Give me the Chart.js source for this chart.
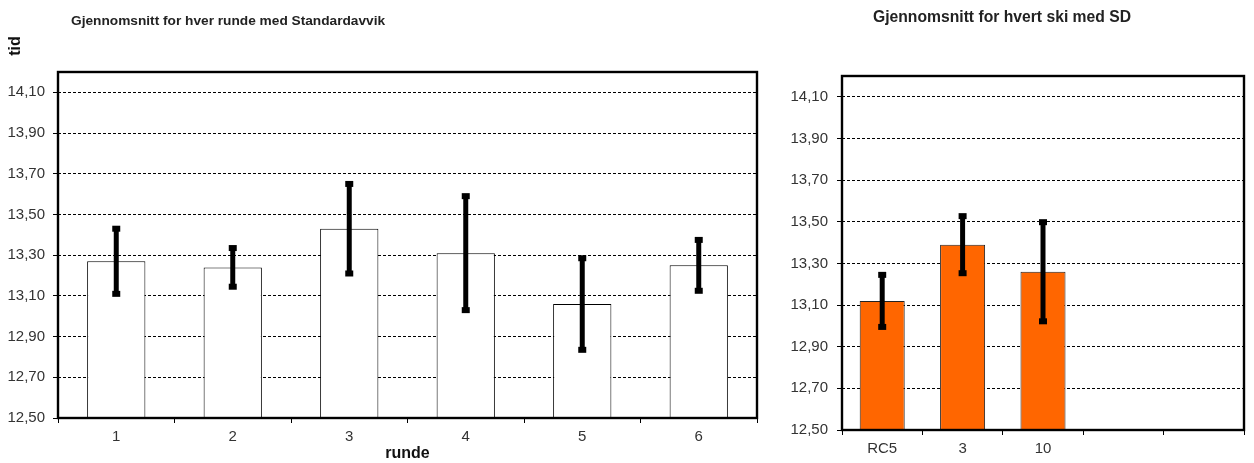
<!DOCTYPE html>
<html><head><meta charset="utf-8">
<script src="https://cdn.jsdelivr.net/npm/chart.js@4/dist/chart.umd.min.js"></script>
<style>
html,body{margin:0;padding:0;background:#fff;width:1254px;height:463px;overflow:hidden}
#w1{position:absolute;left:0;top:0;width:770px;height:463px}
#w2{position:absolute;left:770px;top:0;width:484px;height:463px}
</style></head><body>
<div id="w1"><canvas id="c1" width="770" height="463"></canvas></div>
<div id="w2"><canvas id="c2" width="484" height="463"></canvas></div>
<script>
// ---- data ----
const rundeLabels = ['1', '2', '3', '4', '5', '6'];
const rundeMeans = [13.27, 13.24, 13.43, 13.31, 13.06, 13.25];
const rundeSD = [0.16, 0.095, 0.22, 0.28, 0.225, 0.125];

const skiLabels = ['RC5', '3', '10', '', ''];
const skiMeans = [13.12, 13.39, 13.26, null, null];
const skiSD = [0.125, 0.137, 0.238, null, null];

const yTickValues = [12.5, 12.7, 12.9, 13.1, 13.3, 13.5, 13.7, 13.9, 14.1];
const yMin = 12.5, yMax = 14.2;

const titleLeft = 'Gjennomsnitt for hver runde med Standardavvik';
const titleRight = 'Gjennomsnitt for hvert ski med SD';
const xTitleLeft = 'runde';
const yTitleLeft = 'tid';

// ---- helpers ----
const FAM = '"Liberation Sans", Arial, sans-serif';

const framePlugin = {
  id: 'frame',
  afterDraw(chart, args, opts) {
    const {ctx, chartArea: a} = chart;
    ctx.save();
    ctx.lineWidth = 2.4;
    ctx.strokeStyle = '#000';
    ctx.setLineDash([]);
    ctx.strokeRect(a.left, a.top, a.right - a.left, a.bottom - a.top);
    (opts.texts || []).forEach(t => {
      ctx.save();
      ctx.font = t.font;
      ctx.fillStyle = t.color || '#222';
      ctx.textAlign = t.align || 'left';
      ctx.textBaseline = t.baseline || 'alphabetic';
      ctx.translate(t.x, t.y);
      if (t.rotate) ctx.rotate(t.rotate);
      ctx.fillText(t.text, 0, 0);
      ctx.restore();
    });
    ctx.restore();
  }
};

function makeChart(canvasId, cfg) {
  const whisker = cfg.means.map((m, i) => m == null ? null : [m - cfg.sd[i], m + cfg.sd[i]]);
  const hi = cfg.means.map((m, i) => m == null ? null : m + cfg.sd[i]);
  const lo = cfg.means.map((m, i) => m == null ? null : m - cfg.sd[i]);
  const capStyle = {
    type: 'line', showLine: false, pointStyle: 'line', pointRadius: 4, pointHoverRadius: 4,
    pointBorderWidth: 6, pointBorderColor: '#000', pointBackgroundColor: '#000',
    borderColor: '#000', order: 1
  };
  return new Chart(document.getElementById(canvasId), {
    type: 'bar',
    data: {
      labels: cfg.labels,
      datasets: [
        { type: 'bar', data: cfg.means, backgroundColor: cfg.fill, borderColor: cfg.border,
          borderWidth: 1, grouped: false, barPercentage: cfg.barPct, categoryPercentage: 1, order: 3 },
        { type: 'bar', data: whisker, backgroundColor: '#000', borderWidth: 0, grouped: false,
          maxBarThickness: 5, order: 2 },
        Object.assign({ data: hi }, capStyle),
        Object.assign({ data: lo }, capStyle)
      ]
    },
    options: {
      responsive: false,
      animation: false,
      layout: { padding: cfg.padding },
      plugins: {
        legend: { display: false },
        tooltip: { enabled: false },
        title: { display: false },
        frame: { texts: cfg.texts }
      },
      scales: {
        x: {
          offset: true,
          afterFit: s => { s.height = cfg.xh; },
          ticks: { color: '#333', font: { family: FAM, size: 15 }, padding: 5, maxRotation: 0, autoSkip: false },
          grid: { offset: true, drawOnChartArea: false, tickLength: 5, tickColor: '#000', color: '#000' },
          border: { display: false },
          title: { display: !!cfg.xTitle, text: cfg.xTitle || '', color: '#111',
                   font: { family: FAM, size: 16, weight: 'bold' }, padding: { top: 0, bottom: 0 } }
        },
        y: {
          min: yMin, max: yMax,
          afterBuildTicks: s => { s.ticks = yTickValues.map(v => ({ value: v })); },
          afterFit: s => { s.width = cfg.yw; },
          ticks: { color: '#333', font: { family: FAM, size: 15 }, padding: cfg.ypad,
                   callback: v => Number(v).toFixed(2).replace('.', ',') },
          grid: { color: '#000', lineWidth: 1, tickLength: 5, tickColor: '#000', tickWidth: 1 },
          border: { display: false, dash: [3, 2] }
        }
      }
    },
    plugins: [framePlugin]
  });
}

makeChart('c1', {
  labels: rundeLabels, means: rundeMeans, sd: rundeSD,
  fill: '#ffffff', border: '#000', barPct: 0.5,
  padding: { left: 0, top: 72, right: 13, bottom: 0 },
  xh: 45, yw: 58, ypad: 8, xTitle: xTitleLeft,
  texts: [
    { text: titleLeft, x: 71, y: 25, font: 'bold 13.7px ' + FAM, color: '#222' },
    { text: yTitleLeft, x: 16, y: 46, font: 'bold 16px ' + FAM, color: '#111',
      align: 'center', baseline: 'middle', rotate: -Math.PI / 2 }
  ]
});

makeChart('c2', {
  labels: skiLabels, means: skiMeans, sd: skiSD,
  fill: '#FF6600', border: '#222', barPct: 0.56,
  padding: { left: 0, top: 76, right: 3, bottom: 0 },
  xh: 33, yw: 72, ypad: 9, xTitle: '',
  texts: [
    { text: titleRight, x: 103, y: 22, font: 'bold 15.7px ' + FAM, color: '#222' }
  ]
});
</script>
</body></html>
